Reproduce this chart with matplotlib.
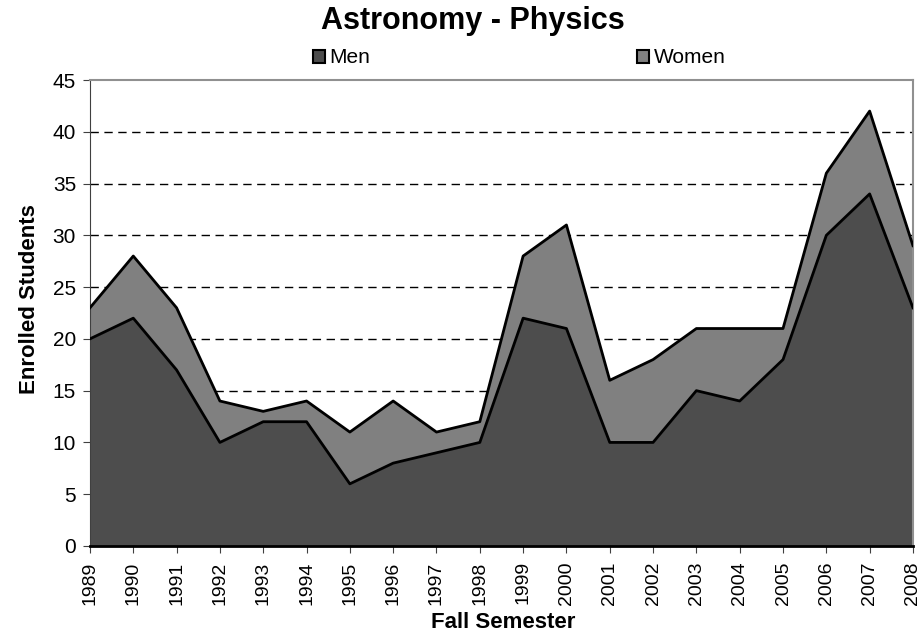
import numpy as np
import matplotlib
matplotlib.use('Agg')
import matplotlib.pyplot as plt
from matplotlib.patches import Patch

plt.rcParams['font.family'] = ['Liberation Sans', 'DejaVu Sans']

years = list(range(1989, 2009))
men = [20, 22, 17, 10, 12, 12, 6, 8, 9, 10, 22, 21, 10, 10, 15, 14, 18, 30, 34, 23]
women = [3, 6, 6, 4, 1, 2, 5, 6, 2, 2, 6, 10, 6, 8, 6, 7, 3, 6, 8, 6]

men_color = '#4d4d4d'
women_color = '#808080'

total = np.array(men) + np.array(women)

fig = plt.figure(figsize=(9.17, 6.37), dpi=100)
ax = fig.add_axes([0.0981, 0.1429, 0.8975, 0.7315])

# stacked areas
ax.fill_between(years, 0, men, color=men_color, linewidth=0, zorder=2)
ax.fill_between(years, men, total, color=women_color, linewidth=0, zorder=2)
ax.plot(years, men, color='black', linewidth=2, zorder=3)
ax.plot(years, total, color='black', linewidth=2, zorder=3)

ax.set_xlim(1989, 2008)
ax.set_ylim(0, 45)
ax.set_yticks(range(0, 46, 5))
ax.set_xticks(years)
ax.set_xticklabels([str(y) for y in years], rotation=90)
ax.tick_params(axis='y', labelsize=15, direction='out', length=5, color='#404040', pad=5)
ax.tick_params(axis='x', labelsize=14, direction='out', length=5, color='#404040', pad=6)

for y in range(5, 45, 5):
    ax.axhline(y, color='black', linestyle=(0, (6, 4)), linewidth=1, zorder=1)

ax.spines['left'].set_color('#404040')
ax.spines['bottom'].set_color('black')
ax.spines['bottom'].set_linewidth(2)
ax.spines['top'].set_color('#909090')
ax.spines['top'].set_linewidth(1.5)
ax.spines['right'].set_color('#909090')
ax.spines['right'].set_linewidth(1.5)

fig.text(0.549, 0.022, 'Fall Semester', ha='center', va='center',
         fontsize=16, fontweight='bold')
fig.text(0.032, 0.53, 'Enrolled Students', ha='center', va='center',
         rotation=90, fontsize=16, fontweight='bold')

fig.text(0.516, 0.9545, 'Astronomy - Physics', ha='center', va='baseline',
         fontsize=22, fontweight='bold')

handles = [Patch(facecolor=men_color, edgecolor='black', linewidth=1.5, label='Men'),
           Patch(facecolor=women_color, edgecolor='black', linewidth=1.5, label='Women')]
fig.legend(handles=handles, loc='center', bbox_to_anchor=(0.566, 0.909), ncol=2,
           frameon=False, fontsize=15, handlelength=0.6, handleheight=0.6,
           handletextpad=0.2, columnspacing=12.8)

fig.savefig('out.png', dpi=100)
